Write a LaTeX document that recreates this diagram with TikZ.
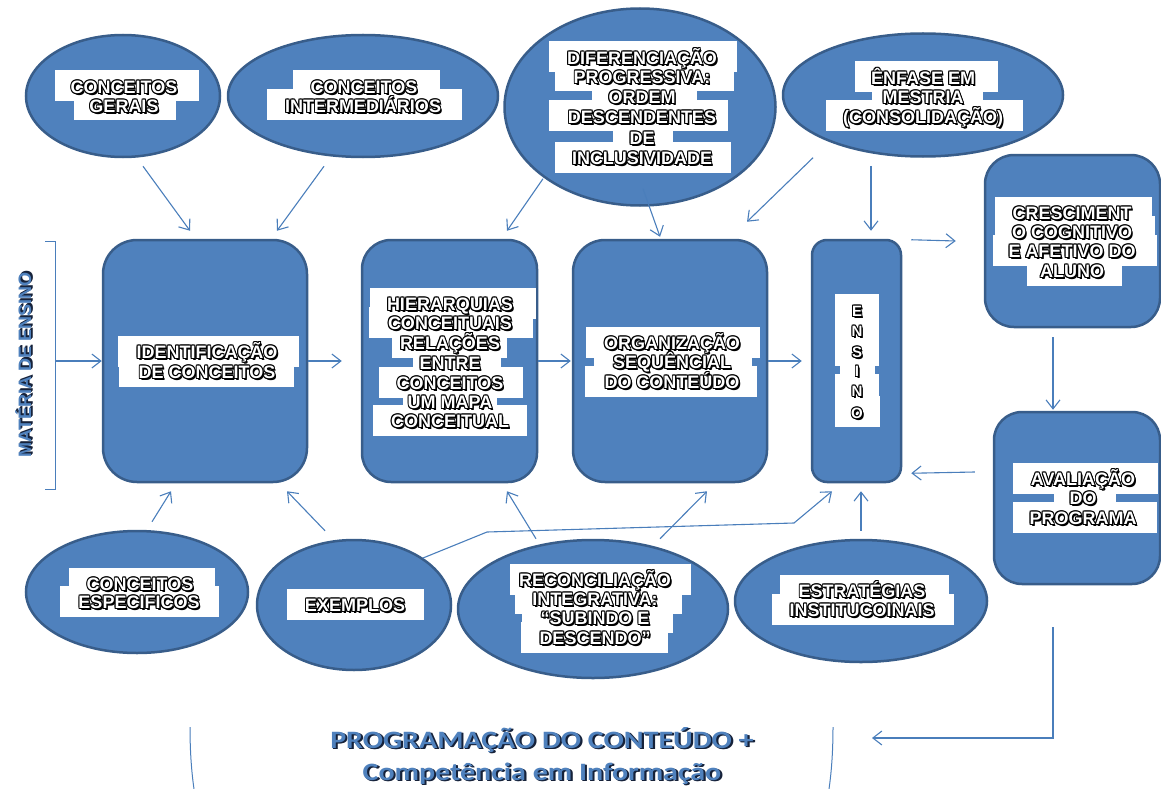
\documentclass[tikz,border=0pt]{standalone}
\usepackage{fontspec}
\usepackage{graphicx}
\setmainfont{Liberation Sans}
\newfontfamily\carl{Carlito}
\usetikzlibrary{shapes.geometric,arrows.meta,calc}
\definecolor{shpfill}{HTML}{4F81BD}
\definecolor{shpline}{HTML}{385D8A}
\definecolor{arrc}{HTML}{4A7EBB}
\definecolor{ttlc}{HTML}{4F81BD}
\definecolor{ttls}{HTML}{16223A}
\pgfdeclarelayer{shapes}
\pgfdeclarelayer{boxes}
\pgfsetlayers{shapes,boxes,main}
\newcommand\bcp[3]{\rlap{\textcolor{black}{\kern#1\raisebox{#2}{#3}}}}
\newcommand\olt[1]{\leavevmode\bcp{1.6pt}{-1.6pt}{#1}\bcp{1.1pt}{-1.1pt}{#1}\bcp{-.8pt}{.8pt}{#1}\bcp{.8pt}{.8pt}{#1}\bcp{-.8pt}{-.8pt}{#1}\bcp{.8pt}{-.8pt}{#1}\bcp{0pt}{.9pt}{#1}\bcp{0pt}{-.9pt}{#1}\bcp{.9pt}{0pt}{#1}\bcp{-.9pt}{0pt}{#1}\textcolor{white}{#1}}
\newcommand\shd[1]{\leavevmode\rlap{\textcolor{ttls}{\kern1.8pt\raisebox{-1.8pt}{#1}}}\rlap{\textcolor{ttls}{\kern1pt\raisebox{-1pt}{#1}}}\textcolor{ttlc}{#1}}
% #1 name, #2 text x, #3 text centre y, #4 box left, #5 box right, #6 text
\newcommand\tline[6]{%
\begin{pgfonlayer}{boxes}\path[fill=white] ({#4},{#3-16.5}) rectangle ({#5},{#3+14.5});\end{pgfonlayer}%
\node[txt] (#1) at ({#2},{#3+6.5}) {\olt{#6}};}
\begin{document}
\begin{tikzpicture}[x=1pt,y=-1pt,
  shp/.style={fill=shpfill,draw=shpline,line width=2.5pt,inner sep=0pt},
  ell/.style={shp,ellipse},
  rbox/.style={shp,rectangle},
  txt/.style={inner sep=0pt,anchor=base,font=\bfseries\fontsize{18}{18}\selectfont},
  arr/.style={draw=arrc,line width=1.1pt,-{Straight Barb[length=9pt,width=14pt]}},
  ln/.style={draw=arrc,line width=1pt},
  ttl/.style={inner sep=0pt,anchor=base,font=\carl\bfseries\fontsize{25}{25}\selectfont}]
\useasboundingbox (0,0) rectangle (1161,789);

\begin{pgfonlayer}{shapes}
\node[ell,minimum width=194pt,minimum height=122pt] (e1) at (123,96) {};
\node[ell,minimum width=270pt,minimum height=122pt] (e2) at (363,96) {};
\node[ell,minimum width=271pt,minimum height=197pt] (e3) at (640,107) {};
\node[ell,minimum width=280pt,minimum height=123pt] (e4) at (923,95) {};
\node[ell,minimum width=222pt,minimum height=122pt] (e5) at (137,592) {};
\node[ell,minimum width=194pt,minimum height=130pt] (e6) at (354,605) {};
\node[ell,minimum width=270pt,minimum height=138pt] (e7) at (593,609) {};
\node[ell,minimum width=252pt,minimum height=122pt] (e8) at (861,601) {};
\node[rbox,rounded corners=34pt,minimum width=204pt,minimum height=242pt] (r1) at (205,361) {};
\node[rbox,rounded corners=29pt,minimum width=175pt,minimum height=242pt] (r2) at (449.5,361) {};
\node[rbox,rounded corners=32pt,minimum width=194pt,minimum height=242pt] (r3) at (670,361) {};
\node[rbox,rounded corners=15pt,minimum width=89pt,minimum height=242pt] (r4) at (856.5,361) {};
\node[rbox,rounded corners=29pt,minimum width=175pt,minimum height=172pt] (r5) at (1072.5,241) {};
\node[rbox,rounded corners=28pt,minimum width=166pt,minimum height=172pt] (r6) at (1077,498) {};
\end{pgfonlayer}

% labels
\tline{e1a}{124}{87}{55}{199}{CONCEITOS}
\tline{e1b}{124}{106}{74}{176}{GERAIS}
\tline{e2a}{364}{87}{293}{440}{CONCEITOS}
\tline{e2b}{363}{106}{267}{462}{INTERMEDIÁRIOS}
\tline{e3a}{642}{58}{549}{737}{DIFERENCIAÇÃO}
\tline{e3b}{642}{77}{555}{734}{PROGRESSIVA:}
\tline{e3c}{642}{97}{592}{697}{ORDEM}
\tline{e3d}{642}{117}{549}{728}{DESCENDENTES}
\tline{e3e}{642}{138}{613}{673}{DE}
\tline{e3f}{642}{158}{555}{731}{INCLUSIVIDADE}
\tline{e4a}{923}{78}{855}{998}{ÊNFASE EM}
\tline{e4b}{923}{97}{872}{983}{MESTRIA}
\tline{e4c}{923}{117}{826}{1023}{(CONSOLIDAÇÃO)}
\tline{r1a}{207}{352}{118}{299}{IDENTIFICAÇÃO}
\tline{r1b}{207}{372}{119}{294}{DE CONCEITOS}
\tline{r2a}{450}{304}{370}{536}{HIERARQUIAS}
\tline{r2b}{450}{323}{369}{533}{CONCEITUAIS}
\tline{r2c}{450}{343}{392}{507}{RELAÇÕES}
\tline{r2d}{450}{363}{413}{501}{ENTRE}
\tline{r2e}{450}{383}{379}{523}{CONCEITOS}
\tline{r2f}{450}{402}{403}{497}{UM MAPA}
\tline{r2g}{450}{421}{373}{527}{CONCEITUAL}
\tline{r3a}{672}{343}{586}{760}{ORGANIZAÇÃO}
\tline{r3b}{672}{362}{594}{752}{SEQUÊNCIAL}
\tline{r3c}{672}{382}{585}{757}{DO CONTEÚDO}
\begin{scope}[txt/.append style={font=\bfseries\fontsize{15}{15}\selectfont}]
\tline{r4a}{857}{310}{835}{879}{E}
\tline{r4b}{857}{330}{835}{879}{N}
\tline{r4c}{857}{351}{835}{879}{S}
\tline{r4d}{857}{370}{840}{875}{I}
\tline{r4e}{857}{390}{835}{879}{N}
\tline{r4f}{857}{412}{835}{880}{O}
\end{scope}
\tline{r5a}{1072}{213}{995}{1152}{CRESCIMENT}
\tline{r5b}{1072}{232}{995}{1155}{O COGNITIVO}
\tline{r5c}{1072}{251}{993}{1157}{E AFETIVO DO}
\tline{r5d}{1072}{271}{1027}{1122}{ALUNO}
\tline{r6a}{1083}{479}{1013}{1158}{AVALIAÇÃO}
\tline{r6b}{1083}{498}{1054}{1116}{DO}
\tline{r6c}{1083}{518}{1013}{1157}{PROGRAMA}
\tline{e5a}{140}{584}{69}{215}{CONCEITOS}
\tline{e5b}{139}{602}{60}{219}{ESPECIFICOS}
\tline{e6a}{355}{605}{287}{424}{EXEMPLOS}
\tline{e7a}{595}{580}{510}{691}{RECONCILIAÇÃO}
\tline{e7b}{595}{599}{515}{682}{INTEGRATIVA:}
\tline{e7c}{595}{618}{522}{673}{“SUBINDO E}
\tline{e7d}{595}{638}{521}{668}{DESCENDO”}
\tline{e8a}{862}{591}{780}{949}{ESTRATÉGIAS}
\tline{e8b}{862}{610}{772}{954}{INSTITUCOINAIS}

% side bracket and title texts
\draw[ln] (45,241) -- (55,241) -- (55,489) -- (45,489);
\coordinate (brk) at (55,361);
\node[inner sep=0pt,anchor=base,rotate=90,font=\bfseries\fontsize{18}{18}\selectfont] (mat) at (31,365) {\shd{MATÉRIA DE ENSINO}};
\node[ttl] (t1) at (542,748) {\scalebox{1.2}[1]{\shd{PROGRAMAÇÃO DO CONTEÚDO +}}};
\node[ttl] (t2) at (542,780) {\scalebox{1.2}[1]{\shd{Competência em Informação}}};
\draw[ln] (190,727) .. controls (190,755) and (192,775) .. (194,789);
\draw[ln] (833,727) .. controls (833,755) and (831,775) .. (829,789);
\coordinate (bt) at (872,738);

% connectors
\draw[arr] (brk) -- (r1.west);
\draw[arr] ($(e1.south)+(20,8)$) -- ($(r1.north)+(-15,-8)$);
\draw[arr] ($(e2.south)+(-39,8)$) -- ($(r1.north)+(72,-8)$);
\draw[arr] ($(e3.south)+(-97,-28)$) -- ($(r2.north)+(57.5,-8)$);
\draw[arr] ($(e3.south)+(3,-18)$) -- ($(r3.north)+(-10,-2)$);
\draw[arr] ($(e4.south)+(-110,0)$) -- ($(r3.north)+(77,-17)$);
\draw[arr] ($(e4.south)+(-52,8)$) -- ($(r4.north)+(14.5,-8)$);
\draw[arr] ($(r4.north east)+(9,1)$) -- ($(r5.west)+(-28,0)$);
\draw[arr] ($(r5.south)+(-19.5,9)$) -- ($(r6.north)+(-24,-1)$);
\draw[arr] ($(r6.west)+(-18,-26)$) -- ($(r4.south east)+(9,-10)$);
\draw[arr] (r1.east) -- ($(r2.west)+(-19,0)$);
\draw[arr] (r2.east) -- ($(r3.west)+(-1,0)$);
\draw[arr] (r3.east) -- ($(r4.west)+(-9,0)$);
\draw[arr] ($(e5.north)+(15,-8)$) -- ($(r1.south)+(-34,8)$);
\draw[arr] ($(e6.north)+(-29,-8)$) -- ($(r1.south)+(82,8)$);
\draw[arr] ($(e7.north)+(-57,0)$) -- ($(r2.south)+(57.5,8)$);
\draw[arr] ($(e7.north)+(67,0)$) -- ($(r3.south)+(37,8)$);
\draw[arr] ($(e6.center)+(69,-47)$) -- (487,532) -- (794,523) -- ($(r4.south)+(-24.5,8)$);
\draw[arr] ($(e8.north)+(0,-8)$) -- ($(r4.south)+(4.5,8)$);
\draw[arr] ($(r6.south)+(-24,42)$) |- (bt);
\end{tikzpicture}
\end{document}
